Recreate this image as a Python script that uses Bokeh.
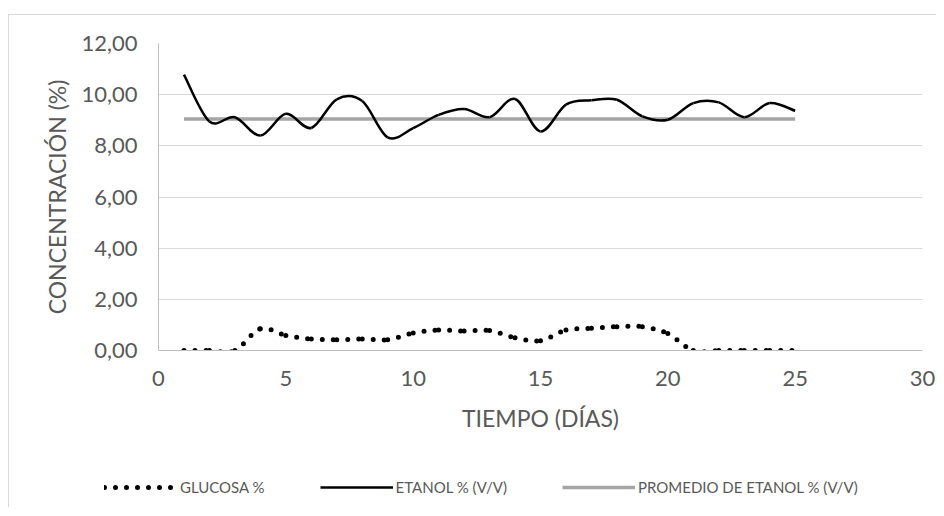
from bokeh.plotting import figure
from bokeh.models import Range1d, FixedTicker, Legend, LegendItem
from bokeh.layouts import column
from bokeh.embed import file_html
from bokeh.resources import INLINE

# ---- data ----
dias = [1, 2, 3, 4, 5, 6, 7, 8, 9, 10, 11, 12, 13, 14, 15, 16, 17, 18, 19, 20, 21, 22, 23, 24, 25]
glucosa = [0.00, 0.00, 0.00, 0.85, 0.59, 0.45, 0.42, 0.45, 0.42, 0.68, 0.80, 0.76, 0.78, 0.50, 0.38,
           0.80, 0.87, 0.93, 0.93, 0.66, 0.00, 0.00, 0.00, 0.00, 0.00]
etanol = [10.78, 8.95, 9.12, 8.40, 9.25, 8.70, 9.82, 9.75, 8.33, 8.69, 9.21, 9.44, 9.12, 9.83, 8.56,
          9.61, 9.78, 9.80, 9.15, 9.02, 9.67, 9.70, 9.12, 9.67, 9.37]
promedio_etanol = [9.05] * 25

x_ticks = [0, 5, 10, 15, 20, 25, 30]
x_tick_labels = ["0", "5", "10", "15", "20", "25", "30"]
y_ticks = [0, 2, 4, 6, 8, 10, 12]
y_tick_labels = ["0,00", "2,00", "4,00", "6,00", "8,00", "10,00", "12,00"]

series_names = ["GLUCOSA %", "ETANOL % (V/V)", "PROMEDIO DE ETANOL % (V/V)"]


def smooth_segments(xs, ys):
    """Bezier control points of a Catmull-Rom curve through the given points (Excel 'smoothed line')."""
    n = len(xs)
    out = dict(x0=[], y0=[], x1=[], y1=[], cx0=[], cy0=[], cx1=[], cy1=[])
    for i in range(n - 1):
        xm, ym = (xs[i - 1], ys[i - 1]) if i > 0 else (xs[i], ys[i])
        xp, yp = (xs[i + 2], ys[i + 2]) if i + 2 < n else (xs[i + 1], ys[i + 1])
        out["x0"].append(xs[i]); out["y0"].append(ys[i])
        out["x1"].append(xs[i + 1]); out["y1"].append(ys[i + 1])
        out["cx0"].append(xs[i] + (xs[i + 1] - xm) / 6.0)
        out["cy0"].append(ys[i] + (ys[i + 1] - ym) / 6.0)
        out["cx1"].append(xs[i + 1] - (xp - xs[i]) / 6.0)
        out["cy1"].append(ys[i + 1] - (yp - ys[i]) / 6.0)
    return out


FONT = "Lato"
TXT = "#595959"
FRAME = "1px solid #D9D9D9"

p = figure(width=927, height=434, output_backend="svg", toolbar_location=None,
           x_range=Range1d(0, 30), y_range=Range1d(0, 12),
           frame_width=763, frame_height=306,
           min_border_left=149, min_border_top=28, min_border_right=15, min_border_bottom=100)
# chart-area frame, as in the reference (top and left edges visible)
p.styles = {"border-top": FRAME, "border-left": FRAME}
p.margin = (14, 0, 0, 8)

p.outline_line_color = None
p.background_fill_color = "white"
p.border_fill_color = "white"

p.xgrid.grid_line_color = None
p.ygrid.grid_line_color = "#D9D9D9"
p.ygrid.grid_line_width = 1

for ax in (p.xaxis[0], p.yaxis[0]):
    ax.axis_line_color = "#BFBFBF"
    ax.axis_line_width = 1
    ax.major_tick_line_color = None
    ax.minor_tick_line_color = None
    ax.major_label_text_font = FONT
    ax.major_label_text_font_size = "22px"
    ax.major_label_text_color = TXT
    ax.axis_label_text_font = FONT
    ax.axis_label_text_font_size = "23px"
    ax.axis_label_text_font_style = "normal"
    ax.axis_label_text_color = TXT

p.xaxis.ticker = FixedTicker(ticks=x_ticks)
p.xaxis.major_label_overrides = dict(zip(x_ticks, x_tick_labels))
p.yaxis.ticker = FixedTicker(ticks=y_ticks)
p.yaxis.major_label_overrides = dict(zip(y_ticks, y_tick_labels))
p.xaxis.axis_label = "TIEMPO (DÍAS)"
p.yaxis.axis_label = "CONCENTRACIÓN (%)"
p.xaxis.major_label_standoff = 14
p.xaxis.axis_label_standoff = 15
p.yaxis.major_label_standoff = 15
p.yaxis.axis_label_standoff = 7

# promedio
p.line(dias, promedio_etanol, line_color="#A5A5A5", line_width=3.5)

# etanol smoothed
seg_e = smooth_segments(dias, etanol)
p.bezier(source=seg_e, x0="x0", y0="y0", x1="x1", y1="y1", cx0="cx0", cy0="cy0", cx1="cx1", cy1="cy1",
         line_color="black", line_width=2.5)

# glucosa smoothed, dotted
seg_g = smooth_segments(dias, glucosa)
p.bezier(source=seg_g, x0="x0", y0="y0", x1="x1", y1="y1", cx0="cx0", cy0="cy0", cx1="cx1", cy1="cy1",
         line_color="black", line_width=5, line_dash="0 11", line_cap="round")

# ---- legend strip (separate canvas under the chart) ----
pl = figure(width=927, height=58, output_backend="svg", toolbar_location=None,
            x_range=Range1d(-3, -2), y_range=Range1d(-3, -2),
            x_axis_location=None, y_axis_location=None,
            min_border=0, min_border_left=0, min_border_right=0, min_border_top=0, min_border_bottom=0)
pl.styles = {"border-left": FRAME}
pl.margin = (0, 0, 0, 8)
pl.outline_line_color = None
pl.grid.visible = False
pl.border_fill_color = "white"

aligned = True
if "frame_align" in pl.properties():
    pl.frame_align = False
    p.frame_align = False
    aligned = False

# legend proxies (their data lie outside this strip's ranges, only the legend swatches show)
lg = pl.line(dias, glucosa, line_color="black", line_width=5, line_dash="0 11", line_cap="round")
le = pl.line(dias, etanol, line_color="black", line_width=2.5)
lp = pl.line(dias, promedio_etanol, line_color="#A5A5A5", line_width=3.5)

legend = Legend(items=[LegendItem(label=series_names[0], renderers=[lg]),
                       LegendItem(label=series_names[1], renderers=[le]),
                       LegendItem(label=series_names[2], renderers=[lp])],
                orientation="horizontal", location=(-55, 10) if aligned else (95, 10),
                glyph_width=73, glyph_height=20, label_height=20, label_standoff=3,
                spacing=55, padding=0, margin=0,
                label_text_font=FONT, label_text_font_size="15px", label_text_color=TXT,
                border_line_color=None, background_fill_alpha=0)
pl.add_layout(legend, "center")

layout = column(p, pl, spacing=0)

open("out.html", "w").write(file_html(layout, INLINE))
